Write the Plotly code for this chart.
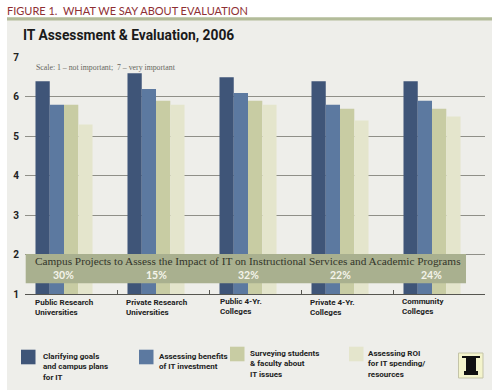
import plotly.graph_objects as go

categories = ["Public Research<br>Universities", "Private Research<br>Universities", "Public 4-Yr.<br>Colleges", "Private 4-Yr.<br>Colleges", "Community<br>Colleges"]
positions = [0, 1, 2, 3, 4]
series_names = ["Clarifying goals<br>and campus plans<br>for IT", "Assessing benefits<br>of IT investment", "Surveying students<br>& faculty about<br>IT issues", "Assessing ROI<br>for IT spending/<br>resources"]
clarifying = [6.4, 6.6, 6.5, 6.4, 6.4]
benefits = [5.8, 6.2, 6.1, 5.8, 5.9]
surveying = [5.8, 5.9, 5.9, 5.7, 5.7]
roi = [5.3, 5.8, 5.8, 5.4, 5.5]
percents = ["30%", "15%", "32%", "22%", "24%"]
colors = ["#3f5578", "#5c79a0", "#c8cca3", "#e4e5cc"]

W, H = 500, 390
def px(x): return x / W
def py(y): return 1 - y / H

fig = go.Figure()
for vals, c, n in zip([clarifying, benefits, surveying, roi], colors, series_names):
    fig.add_bar(x=positions, y=vals, marker_color=c, marker_line_width=0, name=n.replace("<br>", " "), showlegend=False)

def rect(x0, x1, y0, y1, color, layer="above", line=None):
    return dict(type="rect", xref="paper", yref="paper", x0=px(x0), x1=px(x1), y0=py(y1), y1=py(y0), fillcolor=color,
                line=line or dict(width=0), layer=layer)

shapes = [
    rect(7, 492, 18, 390, "#eeeeea", "below"),
    rect(7, 492, 17.3, 20.5, "#b3bc9a", "below"),
    rect(25.7, 466, 254, 283.3, "#a9b08f"),
]
for x, c, ly in zip([21, 139, 230, 349], colors, [357, 357, 354, 354]):
    shapes.append(rect(x, x + 14.5, ly - 7.3, ly + 7.3, c))
shapes += [
    rect(458.5, 483, 353, 378, "#f4f4cc", line=dict(color="#c4c4a8", width=1)),
    rect(466, 476, 358, 371, "#111111"),
    rect(462, 480, 356, 358, "#111111"),
    rect(464, 478, 371, 375, "#111111"),
]

ann = []
def text(x, y, t, size, color, font, anchor="left", bold=False):
    ann.append(dict(xref="paper", yref="paper", x=x, y=y, text=f"<b>{t}</b>" if bold else t, showarrow=False, xanchor=anchor, yanchor="middle",
                    font=dict(size=size, color=color, family=font), align="left", borderpad=0, borderwidth=0))

SANS = "Roboto"
text(px(7), py(10), "FIGURE 1.  WHAT WE SAY ABOUT EVALUATION", 11, "#8e2f33", "Lato")
text(px(22.5), py(35), "IT Assessment & Evaluation, 2006", 13.8, "#1a1a1a", SANS, bold=True)
text(px(36), py(67), "Scale: 1 – not important;  7 – very important", 7.8, "#666660", "Liberation Serif")
text(px(247.5), py(261), "Campus Projects to Assess the Impact of IT on Instructional Services and Academic Programs", 11.3, "#33352a", "Liberation Serif", anchor="center")
for p, x in zip(percents, [63, 156, 248, 340.5, 431.7]):
    text(px(x), py(274.5), p, 10.5, "#f4f4ea", "Lato", anchor="center", bold=True)
for c, x, y in zip(categories, [34.5, 126, 220, 310, 401.5], [307, 307, 306.5, 307.5, 306.5]):
    text(px(x), py(y), c, 8, "#222222", SANS, bold=True)
for n, x, y in zip(series_names, [43, 159, 250, 368], [367, 361, 364, 364]):
    text(px(x), py(y), n, 8, "#222222", SANS, bold=True)

fig.update_layout(
    width=W, height=H, margin=dict(l=0, r=0, t=0, b=0, autoexpand=False), autosize=False,
    paper_bgcolor="white", plot_bgcolor="rgba(0,0,0,0)", barmode="group", bargap=0.38, bargroupgap=0,
    shapes=shapes, annotations=ann, showlegend=False,
    xaxis=dict(domain=[px(25), px(485)], range=[-0.424, 4.576], tickmode="array", tickvals=[-0.424, 0.576, 1.576, 2.576, 3.576, 4.576],
               ticktext=[""] * 6, ticks="inside", ticklen=4, tickcolor="#555550", tickwidth=1, showgrid=False, showline=True, linecolor="#555550", linewidth=1, zeroline=False, automargin=False),
    yaxis=dict(domain=[py(294), py(57.5)], range=[1, 7], tickmode="array", tickvals=[1, 2, 3, 4, 5, 6, 7], ticktext=["1", "2", "3", "4", "5", "6", "7"],
               showgrid=True, gridcolor="#8f8f88", gridwidth=1.3, zeroline=False, ticks="", ticklabelstandoff=5, automargin=False,
               tickfont=dict(size=10, color="#222222", family=SANS, weight="bold")),
)
fig.write_html("out.html", post_script="document.body.style.margin='0';", config=dict(displayModeBar=False))
